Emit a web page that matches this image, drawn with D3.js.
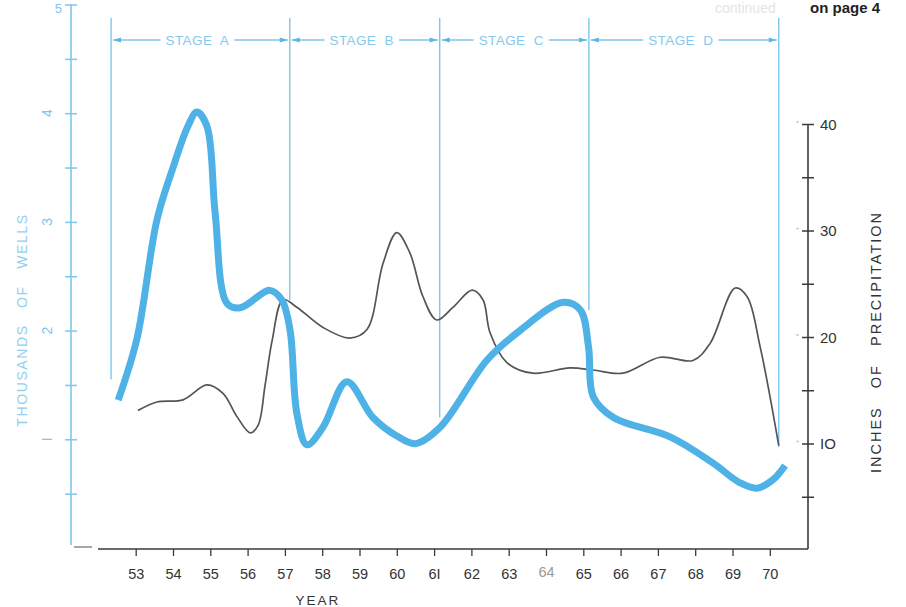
<!DOCTYPE html>
<html>
<head>
<meta charset="utf-8">
<script src="https://cdn.jsdelivr.net/npm/d3@7"></script>
<style>
  html, body { margin: 0; padding: 0; background: #fff; }
  svg { display: block; }
  text { font-family: "Liberation Sans", "DejaVu Sans", sans-serif; }
</style>
</head>
<body>
<svg id="chart" width="906" height="607"></svg>
<script>
// ---------------- data ----------------
const yearTicks = [53,54,55,56,57,58,59,60,61,62,63,64,65,66,67,68,69,70];
const yearLabels = ["53","54","55","56","57","58","59","60","6I","62","63","64","65","66","67","68","69","70"];

const wellsTicks = [1,2,3,4,5];
const wellsMinorTicks = [0.5,1.5,2.5,3.5,4.5];
const precipTicks = [10,20,30,40];
const precipMinorTicks = [5,15,25,35];

// thousands of wells (thick blue line)
const wellsYears  = [52.53,53.03,53.57,54.0,54.4,54.64,54.91,55.13,55.45,55.8,56.6,56.92,57.14,57.32,57.59,58.02,58.66,59.36,60.0,60.5,61.16,62.42,63.3,64.46,64.92,65.14,65.27,65.81,67.34,68.48,69.2,69.66,70.09,70.41];
const wellsValues = [1.36,1.92,3.02,3.50,3.88,4.01,3.88,3.08,2.25,2.21,2.37,2.28,2.0,1.24,0.95,1.11,1.53,1.20,1.03,0.96,1.11,1.73,2.0,2.26,2.19,1.85,1.39,1.2,1.02,0.78,0.6,0.55,0.63,0.76];

// inches of precipitation (thin dark line)
const precipYears  = [53.06,53.57,54.27,54.91,55.34,55.72,56.07,56.28,56.47,56.66,56.95,57.32,58.02,58.74,59.2,59.63,60.0,60.35,60.7,61.07,61.51,62.02,62.31,62.5,62.95,63.65,64.64,65.26,66.06,67.06,67.94,68.4,69.07,69.39,69.74,70.24];
const precipValues = [13.1,13.9,14.1,15.5,14.7,12.5,11.0,11.7,15.5,19.7,23.5,22.8,20.9,19.9,20.7,26.9,29.8,27.9,23.8,21.6,22.8,24.4,23.5,20.4,17.6,16.6,17.1,16.9,16.6,18.1,17.8,19.4,24.6,23.8,19.1,9.8];

// stages
const stageNames = ["A","B","C","D"];
const stageBounds = [52.34,57.13,61.15,65.15,70.24];
const stageLineEnds = [1.55,2.28,1.2,2.19,0.93]; // in thousands of wells

// ---------------- drawing ----------------
const svg = d3.select("#chart");
const blueLight = "#7ec6ec";
const blueLine = "#4eb2e7";
const dark = "#3a3a3a";

const x = d3.scaleLinear().domain([53,70]).range([135.7,769.8]);
const yL = d3.scaleLinear().domain([0,5]).range([548,4.5]);
const yR = d3.scaleLinear().domain([0,40]).range([550,124]);

// top-right note
svg.append("text").attr("x",715).attr("y",13).attr("font-size",14)
  .attr("fill","#e4e4e4").text("continued");
svg.append("text").attr("x",810).attr("y",13).attr("font-size",15)
  .attr("font-weight","bold").attr("fill","#222").text("on page 4");

// stage lines
const stageG = svg.append("g");
stageBounds.forEach((b,i)=>{
  stageG.append("line")
    .attr("x1",x(b)).attr("x2",x(b))
    .attr("y1",18).attr("y2",yL(stageLineEnds[i]))
    .attr("stroke",blueLight).attr("stroke-width",1.4);
});
// stage labels with arrows
const arrowY = 40;
function arrowHead(g, xp, dir){
  g.append("path")
    .attr("d", `M${xp},${arrowY} L${xp - dir*8},${arrowY-2.6} L${xp - dir*8},${arrowY+2.6} Z`)
    .attr("fill","#5fb5e3");
}
stageNames.forEach((n,i)=>{
  const x0 = x(stageBounds[i]), x1 = x(stageBounds[i+1]);
  const cx = (x0+x1)/2 - 3;
  const t = stageG.append("text")
    .attr("x",cx).attr("y",arrowY+5)
    .attr("text-anchor","middle")
    .attr("font-family","'DejaVu Sans Condensed','DejaVu Sans',sans-serif")
    .attr("font-size",13.5).attr("letter-spacing",0.4)
    .attr("fill","#86c9ee")
    .style("white-space","pre")
    .text("STAGE  " + n);
  const bb = t.node().getBBox();
  stageG.append("line").attr("x1",x0+2).attr("x2",bb.x-5)
    .attr("y1",arrowY).attr("y2",arrowY).attr("stroke",blueLight).attr("stroke-width",1.3);
  stageG.append("line").attr("x1",bb.x+bb.width+5).attr("x2",x1-2)
    .attr("y1",arrowY).attr("y2",arrowY).attr("stroke",blueLight).attr("stroke-width",1.3);
  arrowHead(stageG, x0+2, -1);
  arrowHead(stageG, x1-2, 1);
});

// left axis (wells)
const leftAxis = svg.append("g").attr("transform","translate(71,0)")
  .call(d3.axisLeft(yL).tickValues(wellsTicks.concat(wellsMinorTicks)).tickSize(0).tickFormat(""));
leftAxis.select(".domain").remove();
leftAxis.append("line").attr("x1",0).attr("x2",0).attr("y1",yL(5)).attr("y2",yL(0)-3)
  .attr("stroke",blueLight).attr("stroke-width",1.6);
leftAxis.selectAll(".tick line").attr("x1",-6).attr("x2",6)
  .attr("stroke",blueLight).attr("stroke-width",1.5);
wellsTicks.forEach(v=>{
  if (v===5) {
    svg.append("text").attr("x",62).attr("y",yL(v)+8).attr("text-anchor","end")
      .attr("font-size",13).attr("fill",blueLight).text(String(v));
  } else {
    svg.append("text").attr("transform",`translate(52,${yL(v)}) rotate(-90)`)
      .attr("text-anchor","middle").attr("font-size",14).attr("fill",blueLight)
      .text(v===1 ? "I" : String(v));
  }
});
svg.append("line").attr("x1",74).attr("x2",92).attr("y1",547).attr("y2",547)
  .attr("stroke","#888").attr("stroke-width",1.5);
svg.append("text").attr("transform","translate(27,320) rotate(-90)")
  .attr("text-anchor","middle").attr("font-size",14).attr("letter-spacing",1.6)
  .attr("fill","#93cfee").style("white-space","pre")
  .text("THOUSANDS   OF   WELLS");

// bottom axis (years)
const bottomAxis = svg.append("g").attr("transform","translate(0,549)")
  .call(d3.axisBottom(x).tickValues(yearTicks).tickSize(7).tickFormat((d,i)=>yearLabels[i]));
bottomAxis.select(".domain").remove();
bottomAxis.append("line").attr("x1",98).attr("x2",808).attr("y1",0).attr("y2",0)
  .attr("stroke",dark).attr("stroke-width",1.6);
bottomAxis.selectAll(".tick line").attr("stroke",dark).attr("stroke-width",1.3);
bottomAxis.selectAll(".tick text").attr("y",30).attr("dy",0)
  .attr("font-size",14.5).attr("font-family","'Liberation Sans',sans-serif")
  .attr("fill",(d)=> d===64 ? "#9a9a9a" : "#333");
bottomAxis.selectAll(".tick").filter(d=>d===64).select("text").attr("y",28);
svg.append("text").attr("x",318).attr("y",605).attr("text-anchor","middle")
  .attr("font-size",13.5).attr("letter-spacing",2).attr("fill","#333").text("YEAR");

// right axis (precip)
const rightAxis = svg.append("g").attr("transform","translate(808,0)")
  .call(d3.axisRight(yR).tickValues(precipTicks.concat(precipMinorTicks)).tickSize(0).tickFormat(""));
rightAxis.select(".domain").remove();
rightAxis.append("line").attr("x1",0).attr("x2",0).attr("y1",yR(40)).attr("y2",549)
  .attr("stroke",dark).attr("stroke-width",1.6);
rightAxis.selectAll(".tick line").attr("x1",-6).attr("x2",6)
  .attr("stroke",dark).attr("stroke-width",1.5);
precipTicks.forEach(v=>{
  svg.append("text").attr("x",820).attr("y",yR(v)+5.5)
    .attr("font-size",15).attr("fill","#333").text(v===10 ? "IO" : String(v));
  svg.append("line").attr("x1",796).attr("x2",799).attr("y1",yR(v)-2).attr("y2",yR(v)-2)
    .attr("stroke","#ccc").attr("stroke-width",1.5);
});
svg.append("text").attr("transform","translate(881,342) rotate(-90)")
  .attr("text-anchor","middle").attr("font-size",14.5).attr("letter-spacing",2)
  .attr("fill","#333").style("white-space","pre")
  .text("INCHES   OF   PRECIPITATION");

// lines
const wellsData = wellsYears.map((yr,i)=>({yr, v: wellsValues[i]}));
const precipData = precipYears.map((yr,i)=>({yr, v: precipValues[i]}));

svg.append("path").datum(precipData)
  .attr("d", d3.line().x(d=>x(d.yr)).y(d=>yR(d.v)).curve(d3.curveCatmullRom.alpha(0.5)))
  .attr("fill","none").attr("stroke","#555").attr("stroke-width",1.7);

svg.append("path").datum(wellsData)
  .attr("d", d3.line().x(d=>x(d.yr)).y(d=>yL(d.v)).curve(d3.curveCatmullRom.alpha(0.5)))
  .attr("fill","none").attr("stroke",blueLine).attr("stroke-width",7)
  .attr("stroke-linecap","butt").attr("stroke-linejoin","round");
</script>
</body>
</html>
